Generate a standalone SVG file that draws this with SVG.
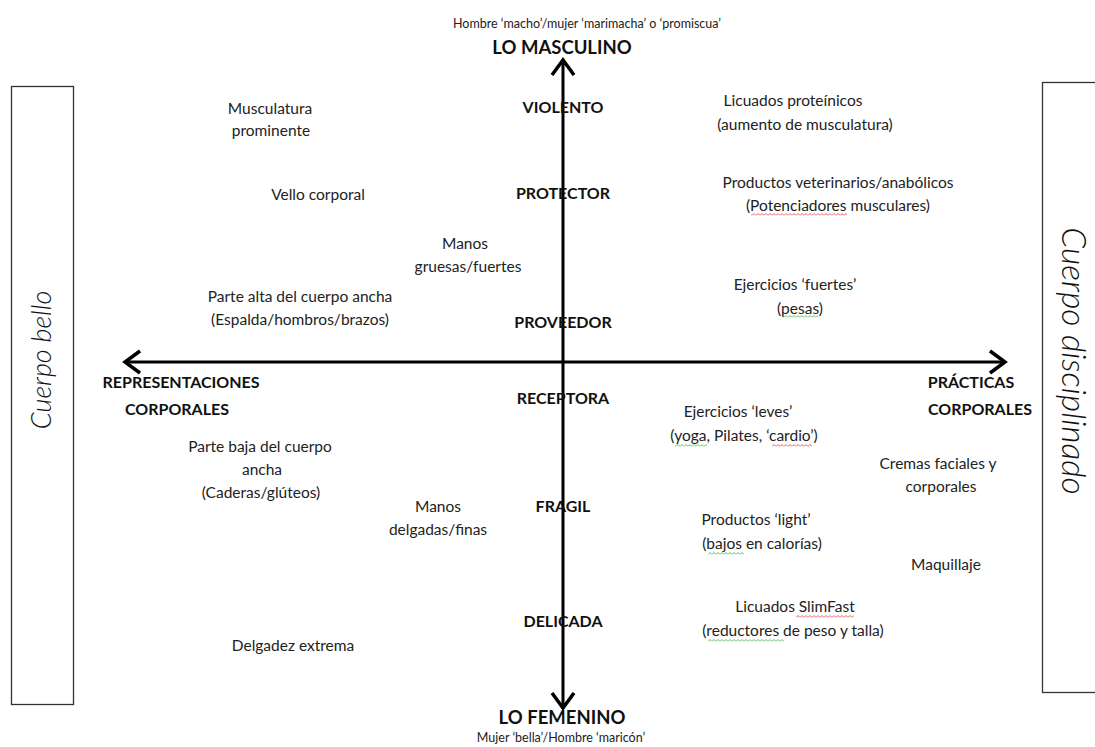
<svg xmlns="http://www.w3.org/2000/svg" width="1095" height="747" viewBox="0 0 1095 747">
<style>
  text { font-family: Lato, "Open Sans", "Liberation Sans", sans-serif; fill: #222; }
  .t { font-size: 15.5px; text-anchor: middle; }
  .s { font-size: 12.5px; text-anchor: middle; }
  .b { font-size: 16px; font-weight: bold; text-anchor: middle; fill: #111; }
  .big { font-size: 18.5px; font-weight: bold; text-anchor: middle; fill: #111; }
  .side { font-style: italic; font-weight: 300; text-anchor: middle; fill: #111; }
  .box { fill: none; stroke: #333; stroke-width: 1.3; }
  .axis { stroke: #000; stroke-width: 3; fill: none; }
</style>
<defs>
  <marker id="arr" markerUnits="userSpaceOnUse" markerWidth="24" markerHeight="26" refX="16" refY="13" orient="auto-start-reverse" viewBox="0 0 24 26">
    <path d="M1,2 L16,13 L1,24" fill="none" stroke="#000" stroke-width="3.5"/>
  </marker>
  <pattern id="sqR" width="4" height="3" patternUnits="userSpaceOnUse">
    <path d="M0,2.5 L2,0.5 L4,2.5" fill="none" stroke="#d33" stroke-width="0.8"/>
  </pattern>
  <pattern id="sqG" width="4" height="3" patternUnits="userSpaceOnUse">
    <path d="M0,2.5 L2,0.5 L4,2.5" fill="none" stroke="#3a3" stroke-width="0.8"/>
  </pattern>
</defs>
<rect width="1095" height="747" fill="#fff"/>

<g id="connectors">
  <line class="axis" x1="563" y1="708" x2="563" y2="60" marker-start="url(#arr)" marker-end="url(#arr)"/>
  <line class="axis" x1="125" y1="362" x2="1005" y2="362" marker-start="url(#arr)" marker-end="url(#arr)"/>
</g>

<g id="box-cuerpo-bello">
  <rect class="box" x="11.5" y="86.5" width="62" height="618"/>
  <text class="side" font-size="27" transform="translate(51,360) rotate(-90)">Cuerpo bello</text>
</g>
<g id="box-cuerpo-disciplinado">
  <rect class="box" x="1042.5" y="82.5" width="60" height="610"/>
  <text class="side" font-size="33.5" transform="translate(1062,361) rotate(90)">Cuerpo disciplinado</text>
</g>

<g id="lo-masculino">
  <text class="s" x="587" y="28">Hombre ‘macho’/mujer ‘marimacha’ o ‘promiscua’</text>
  <text class="big" x="562" y="54">LO MASCULINO</text>
</g>
<g id="violento"><text class="b" x="563" y="113">VIOLENTO</text></g>
<g id="protector"><text class="b" x="563" y="199">PROTECTOR</text></g>
<g id="proveedor"><text class="b" x="563" y="328">PROVEEDOR</text></g>
<g id="receptora"><text class="b" x="563" y="404">RECEPTORA</text></g>
<g id="fragil"><text class="b" x="563" y="512">FRAGIL</text></g>
<g id="delicada"><text class="b" x="563" y="627">DELICADA</text></g>
<g id="lo-femenino">
  <text class="big" x="562" y="724">LO FEMENINO</text>
  <text class="s" x="561" y="742">Mujer ‘bella’/Hombre ‘maricón’</text>
</g>

<g id="representaciones">
  <text class="b" x="181" y="388">REPRESENTACIONES</text>
  <text class="b" x="177" y="415">CORPORALES</text>
</g>
<g id="practicas">
  <text class="b" x="971" y="388">PRÁCTICAS</text>
  <text class="b" x="980" y="415">CORPORALES</text>
</g>

<g id="musculatura">
  <text class="t" x="270" y="114">Musculatura</text>
  <text class="t" x="271" y="136">prominente</text>
</g>
<g id="vello"><text class="t" x="318" y="200">Vello corporal</text></g>
<g id="manos-gruesas">
  <text class="t" x="465" y="249">Manos</text>
  <text class="t" x="468" y="272">gruesas/fuertes</text>
</g>
<g id="parte-alta">
  <text class="t" x="300" y="302">Parte alta del cuerpo ancha</text>
  <text class="t" x="300" y="325">(Espalda/hombros/brazos)</text>
</g>
<g id="parte-baja">
  <text class="t" x="260" y="452">Parte baja del cuerpo</text>
  <text class="t" x="262" y="475">ancha</text>
  <text class="t" x="261" y="498">(Caderas/glúteos)</text>
</g>
<g id="manos-delgadas">
  <text class="t" x="438" y="512">Manos</text>
  <text class="t" x="438" y="535">delgadas/finas</text>
</g>
<g id="delgadez"><text class="t" x="293" y="651">Delgadez extrema</text></g>

<g id="licuados-proteinicos">
  <text class="t" x="793" y="106">Licuados proteínicos</text>
  <text class="t" x="805" y="130">(aumento de musculatura)</text>
</g>
<g id="productos-veterinarios">
  <text class="t" x="838" y="188">Productos veterinarios/anabólicos</text>
  <text class="t" x="838" y="211">(Potenciadores musculares)</text>
  <rect x="751" y="213" width="96" height="3" fill="url(#sqR)"/>
</g>
<g id="ejercicios-fuertes">
  <text class="t" x="795" y="290">Ejercicios ‘fuertes’</text>
  <text class="t" x="800" y="314">(pesas)</text>
  <rect x="782" y="315" width="36" height="3" fill="url(#sqG)"/>
</g>
<g id="ejercicios-leves">
  <text class="t" x="738" y="417">Ejercicios ‘leves’</text>
  <text class="t" x="744" y="441">(yoga, Pilates, ‘cardio’)</text>
  <rect x="675" y="444" width="32" height="3" fill="url(#sqG)"/>
  <rect x="772" y="444" width="40" height="3" fill="url(#sqR)"/>
</g>
<g id="cremas">
  <text class="t" x="938" y="469">Cremas faciales y</text>
  <text class="t" x="941" y="492">corporales</text>
</g>
<g id="productos-light">
  <text class="t" x="756" y="525">Productos ‘light’</text>
  <text class="t" x="762" y="549">(bajos en calorías)</text>
  <rect x="708" y="552" width="36" height="3" fill="url(#sqG)"/>
</g>
<g id="maquillaje"><text class="t" x="946" y="570">Maquillaje</text></g>
<g id="licuados-slimfast">
  <text class="t" x="795" y="612">Licuados SlimFast</text>
  <text class="t" x="793" y="636">(reductores de peso y talla)</text>
  <rect x="796" y="615" width="58" height="3" fill="url(#sqR)"/>
  <rect x="708" y="639" width="76" height="3" fill="url(#sqG)"/>
</g>
</svg>
